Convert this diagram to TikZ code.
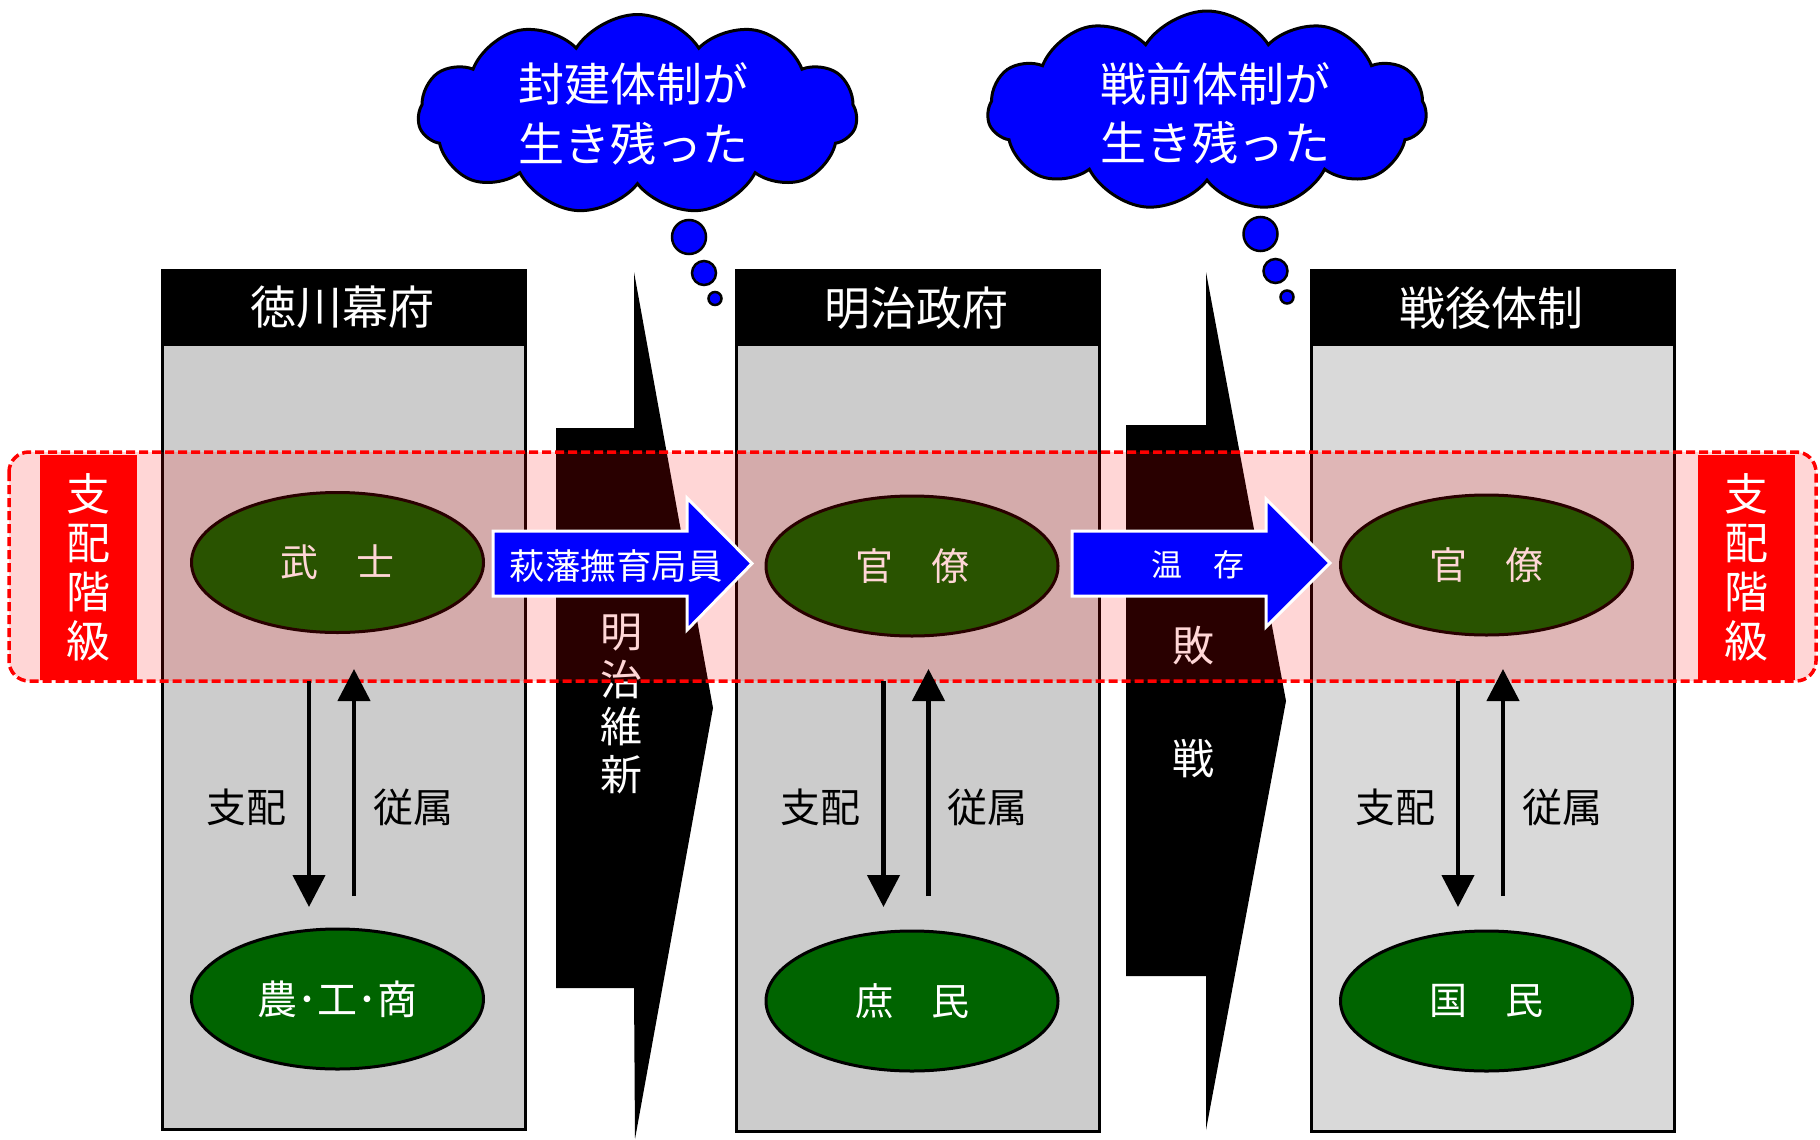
\documentclass[tikz,border=0pt]{standalone}
\usepackage{fontspec}
\newfontfamily\jp{Noto Sans CJK JP}
\usetikzlibrary{shapes.geometric,shapes.symbols,arrows.meta}
\definecolor{boxgray}{HTML}{CCCCCC}
\definecolor{boxgrayb}{HTML}{D9D9D9}
\definecolor{elgreen}{RGB}{0,100,0}
\definecolor{pureblue}{RGB}{0,0,255}
\begin{document}
\begin{tikzpicture}[x=1pt,y=-1pt,
  colbox/.style={draw=black, line width=2.5pt, fill=boxgray, minimum width=363pt, minimum height=859pt, anchor=north west, inner sep=0pt},
  headbox/.style={fill=black, minimum width=363pt, minimum height=77pt, anchor=north west, inner sep=0pt, text=white, font=\jp\fontsize{46}{50}\selectfont},
  classell/.style={ellipse, draw=black, line width=3pt, fill=elgreen, minimum width=292pt, minimum height=140pt, inner sep=0pt, text=white, font=\jp\fontsize{38}{42}\selectfont},
  relarrow/.style={line width=4.5pt, -{Triangle[width=32pt,length=32pt]}},
  rellabel/.style={font=\jp\fontsize{40}{44}\selectfont, inner sep=0pt},
  wedgetxt/.style={text=white, font=\jp\fontsize{42}{47.7}\selectfont, align=center, inner sep=0pt},
  classlbl/.style={fill=red, minimum width=97pt, minimum height=225pt, anchor=north west, inner sep=0pt, text=white, align=center, font=\jp\fontsize{44}{49}\selectfont},
  bluearrow/.style={fill=pureblue, draw=white, line width=3pt, line join=miter},
  arrowtxt/.style={text=white, inner sep=0pt},
  thought/.style={cloud, cloud puffs=11, cloud puff arc=115, cloud ignores aspect, draw=black, line width=3pt, fill=pureblue, minimum width=439pt, minimum height=200pt, inner sep=0pt},
  cloudtxt/.style={text=white, align=center, font=\jp\fontsize{46}{59.5}\selectfont, inner sep=0pt},
  bubble/.style={circle, fill=pureblue, draw=black, line width=2.5pt, inner sep=0pt}
]
\useasboundingbox (0,0) rectangle (1820,1140);
\fill[white] (0,0) rectangle (1820,1140);

% columns
\node[colbox] (col1) at (161,269) {};
\node[colbox, minimum height=861pt] (col2) at (735,269) {};
\node[colbox, minimum height=861pt, fill=boxgrayb] (col3) at (1310,269) {};
\node[headbox] (h1) at (161,269) {徳川幕府};
\node[headbox] (h2) at (735,269) {明治政府};
\node[headbox] (h3) at (1310,269) {戦後体制};

% ellipses
\node[classell] (bushi) at (337.5,562.5) {武　士};
\node[classell, font=\jp\fontsize{40}{44}\selectfont] (nkc) at (337.5,999) {農･工･商};
\node[classell] (kan1) at (912,566) {官　僚};
\node[classell] (shomin) at (912,1001) {庶　民};
\node[classell] (kan2) at (1486.5,565) {官　僚};
\node[classell] (kokumin) at (1486.5,1001) {国　民};

% wedges
\fill[black] (634,272) -- (713,708) -- (635,1139) -- (634,988) -- (556,988) -- (556,428) -- (634,428) -- cycle;
\fill[black] (1206,272) -- (1286,701) -- (1206,1130) -- (1206,976) -- (1126,976) -- (1126,425) -- (1206,425) -- cycle;
\node[wedgetxt] (meiji) at (621,704) {明\\治\\維\\新};
\node[wedgetxt] (hai) at (1193,646) {敗};
\node[wedgetxt] (sen) at (1193,759) {戦};

% ruling class band
\fill[red, fill opacity=0.16, rounded corners=20pt] (9,452) rectangle (1816,681);
\node[classlbl] (lblL) at (40,455) {支\\配\\階\\級};
\node[classlbl] (lblR) at (1698,455) {支\\配\\階\\級};
\draw[red, line width=3.5pt, dash pattern=on 9pt off 4pt, rounded corners=20pt] (9,452) rectangle (1816,681);

% blue arrows
\draw[bluearrow] (493,531) -- (687,531) -- (687,498) -- (752,563.5) -- (687,630) -- (687,596) -- (493,596) -- cycle;
\node[arrowtxt, font=\jp\fontsize{35.5}{38}\selectfont] (hagi) at (616,566) {萩藩撫育局員};
\draw[bluearrow] (1072,531) -- (1266,531) -- (1266,499) -- (1330,563) -- (1266,627) -- (1266,596) -- (1072,596) -- cycle;
\node[arrowtxt, font=\jp\fontsize{31}{34}\selectfont] (onzon) at (1198,565) {温　存};

% relation arrows
\foreach \i/\dx in {1/0, 2/574.5, 3/1149} {
  \coordinate (d\i s) at (309+\dx,681);
  \coordinate (d\i e) at (309+\dx,907);
  \coordinate (u\i s) at (354+\dx,896);
  \coordinate (u\i e) at (354+\dx,669);
  \draw[relarrow] (d\i s) -- (d\i e);
  \draw[relarrow] (u\i s) -- (u\i e);
  \node[rellabel] (shihai\i) at (246+\dx,807) {支配};
  \node[rellabel] (juzoku\i) at (413+\dx,807) {従属};
}

% thought clouds
\node[thought] (cloud1) at (637.5,114.5) {};
\node[cloudtxt] (ct1) at (633,114) {封建体制が\\生き残った};
\node[bubble, minimum size=34pt] (b11) at (689,237) {};
\node[bubble, minimum size=24pt] (b12) at (704,273) {};
\node[bubble, minimum size=13pt] (b13) at (715,298.5) {};

\node[thought] (cloud2) at (1207,111) {};
\node[cloudtxt] (ct2) at (1215,113.5) {戦前体制が\\生き残った};
\node[bubble, minimum size=34pt] (b21) at (1260.5,234) {};
\node[bubble, minimum size=24pt] (b22) at (1275.5,271) {};
\node[bubble, minimum size=13pt] (b23) at (1287,297) {};
\end{tikzpicture}
\end{document}
